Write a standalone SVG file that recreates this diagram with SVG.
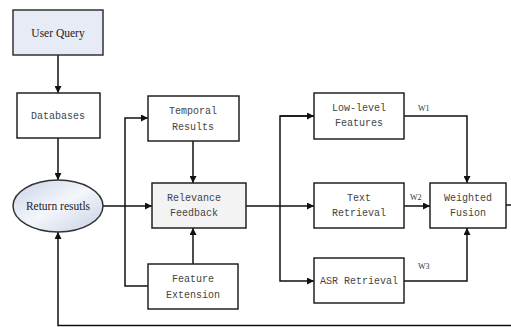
<svg xmlns="http://www.w3.org/2000/svg" width="511" height="327" viewBox="0 0 511 327">
<defs>
<marker id="arr" viewBox="0 0 10 10" refX="10" refY="5" markerWidth="7" markerHeight="7" markerUnits="userSpaceOnUse" orient="auto">
<path d="M0,0 L10,5 L0,10 z" fill="#111"/>
</marker>
<linearGradient id="eg" x1="0" y1="0" x2="1" y2="1">
<stop offset="0" stop-color="#c9d3e6"/>
<stop offset="0.5" stop-color="#f4f6fb"/>
<stop offset="1" stop-color="#c6d0e4"/>
</linearGradient>
</defs>
<style>
.box{fill:#fff;stroke:#222;stroke-width:1.5}
.mono{font-family:"Liberation Mono","DejaVu Sans Mono",monospace;font-size:10px;fill:#444;text-anchor:middle}
.serif{font-family:"Liberation Serif","Times New Roman",serif;font-size:11.5px;fill:#222;text-anchor:middle}
.w{font-family:"Liberation Serif",serif;font-size:8px;fill:#333}
.ln{fill:none;stroke:#111;stroke-width:1.5}
</style>
<rect width="511" height="327" fill="#fff"/>
<g id="connectors">
<line class="ln" x1="58" y1="55" x2="58" y2="93" marker-end="url(#arr)"/>
<line class="ln" x1="58" y1="138" x2="58" y2="180" marker-end="url(#arr)"/>
<line class="ln" x1="103" y1="206" x2="152" y2="206" marker-end="url(#arr)"/>
<polyline class="ln" points="148,286 125,286 125,118 148,118" marker-end="url(#arr)"/>
<line class="ln" x1="193" y1="141" x2="193" y2="183" marker-end="url(#arr)"/>
<line class="ln" x1="193" y1="264" x2="193" y2="228" marker-end="url(#arr)"/>
<line class="ln" x1="246" y1="206" x2="314" y2="206" marker-end="url(#arr)"/>
<polyline class="ln" points="314,116 280,116 280,281 314,281" marker-end="url(#arr)"/>
<line class="ln" x1="280" y1="116" x2="314" y2="116" marker-end="url(#arr)"/>
<polyline class="ln" points="404,116 467,116 467,183" marker-end="url(#arr)"/>
<line class="ln" x1="404" y1="206" x2="430" y2="206" marker-end="url(#arr)"/>
<polyline class="ln" points="404,281 467,281 467,228" marker-end="url(#arr)"/>
<line class="ln" x1="506" y1="205" x2="511" y2="205"/>
<polyline class="ln" points="511,325.5 58,325.5 58,232" marker-end="url(#arr)"/>
<text class="w" x="418" y="111">W1</text>
<text class="w" x="410" y="200">W2</text>
<text class="w" x="418" y="269">W3</text>
</g>
<g id="user-query">
<rect x="13" y="10" width="90" height="45" fill="#e6ebf5" stroke="#333" stroke-width="1.5"/>
<text class="serif" x="58" y="37">User Query</text>
</g>
<g id="databases">
<rect class="box" x="17" y="93" width="83" height="45"/>
<text class="mono" x="58" y="119">Databases</text>
</g>
<g id="return-results">
<ellipse cx="58" cy="206" rx="45" ry="26" fill="url(#eg)" stroke="#333" stroke-width="1.5"/>
<text class="serif" x="58" y="210">Return resutls</text>
</g>
<g id="temporal-results">
<rect class="box" x="148" y="96" width="91" height="45"/>
<text class="mono" x="193" y="114">Temporal</text>
<text class="mono" x="193" y="130">Results</text>
</g>
<g id="relevance-feedback">
<rect x="152" y="183" width="94" height="45" fill="#f3f3f3" stroke="#222" stroke-width="1.5"/>
<text class="mono" x="194" y="201">Relevance</text>
<text class="mono" x="194" y="216">Feedback</text>
</g>
<g id="feature-extension">
<rect class="box" x="148" y="264" width="90" height="45"/>
<text class="mono" x="193" y="282">Feature</text>
<text class="mono" x="193" y="298">Extension</text>
</g>
<g id="low-level-features">
<rect class="box" x="314" y="93" width="90" height="46"/>
<text class="mono" x="359" y="111">Low-level</text>
<text class="mono" x="359" y="126">Features</text>
</g>
<g id="text-retrieval">
<rect class="box" x="314" y="183" width="90" height="45"/>
<text class="mono" x="359" y="201">Text</text>
<text class="mono" x="359" y="216">Retrieval</text>
</g>
<g id="asr-retrieval">
<rect class="box" x="314" y="258" width="90" height="45"/>
<text class="mono" x="359" y="284">ASR Retrieval</text>
</g>
<g id="weighted-fusion">
<rect class="box" x="430" y="183" width="76" height="45"/>
<text class="mono" x="468" y="201">Weighted</text>
<text class="mono" x="468" y="216">Fusion</text>
</g>
</svg>
